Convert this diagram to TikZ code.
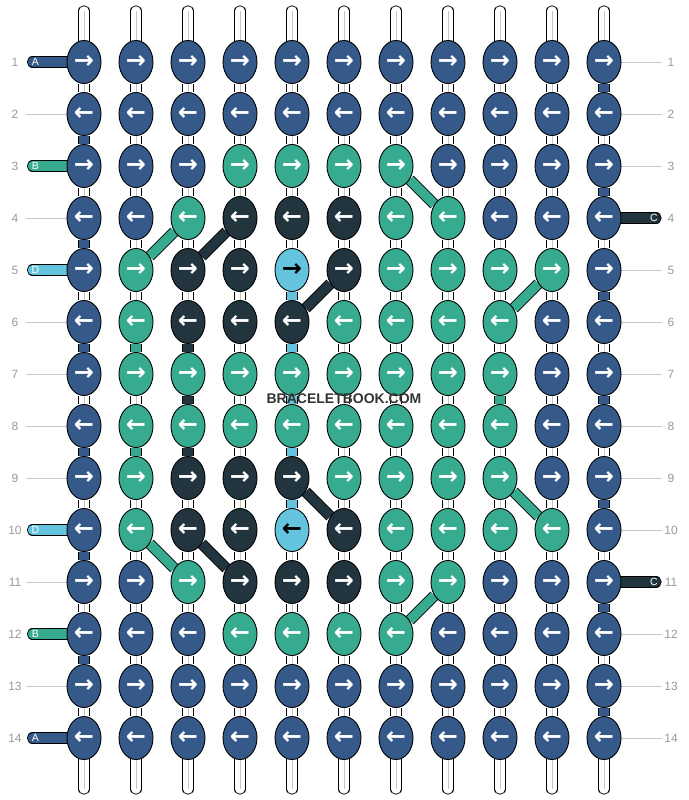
\documentclass[tikz,border=0pt]{standalone}
\usepackage{fontspec}
\setmainfont{Liberation Sans}
\newfontfamily\arrowfont{DejaVu Sans}
\usetikzlibrary{shapes.geometric}
\definecolor{strA}{HTML}{355A8A}
\definecolor{strB}{HTML}{36AB8F}
\definecolor{strC}{HTML}{22353F}
\definecolor{strD}{HTML}{64C4DE}
\pgfdeclarelayer{bg}
\pgfsetlayers{bg,main}
\tikzstyle{knot} = [ellipse, draw=black, line width=0.9pt, minimum width=34pt, minimum height=43pt, inner sep=0pt, text=white, font=\arrowfont\bfseries\fontsize{24}{24}\selectfont]
\tikzstyle{knotA} = [knot, fill=strA]
\tikzstyle{knotB} = [knot, fill=strB]
\tikzstyle{knotC} = [knot, fill=strC]
\tikzstyle{knotD} = [knot, fill=strD, text=black]
\tikzstyle{tube} = [line width=9.4pt, preaction={draw=black, line width=11.2pt}]
\tikzstyle{capped} = [line width=9.4pt, line cap=round, preaction={draw=black, line width=11.2pt, line cap=round}]
\tikzstyle{warp} = [tube, draw=white]
\tikzstyle{core} = [draw=black!22, line width=0.8pt]
\tikzstyle{rowline} = [draw=black!22, line width=0.8pt]
\tikzstyle{rownum} = [text=black!40, font=\fontsize{12}{12}\selectfont, inner sep=0pt]
\tikzstyle{tag} = [text=white, font=\fontsize{10.5}{10.5}\selectfont, inner sep=0pt]

\begin{document}
\begin{tikzpicture}[x=1pt, y=-1pt]
      \useasboundingbox (0,0) rectangle (688,800);
      % place nodes
      \foreach \r/\cols in {1/{A,A,A,A,A,A,A,A,A,A,A}, 2/{A,A,A,A,A,A,A,A,A,A,A},
          3/{A,A,A,B,B,B,B,A,A,A,A}, 4/{A,A,B,C,C,C,B,B,A,A,A},
          5/{A,B,C,C,D,C,B,B,B,B,A}, 6/{A,B,C,C,C,B,B,B,B,A,A},
          7/{A,B,B,B,B,B,B,B,B,A,A}, 8/{A,B,B,B,B,B,B,B,B,A,A},
          9/{A,B,C,C,C,B,B,B,B,A,A}, 10/{A,B,C,C,D,C,B,B,B,B,A},
          11/{A,A,B,C,C,C,B,B,A,A,A}, 12/{A,A,A,B,B,B,B,A,A,A,A},
          13/{A,A,A,A,A,A,A,A,A,A,A}, 14/{A,A,A,A,A,A,A,A,A,A,A}} {
        \foreach \k [count=\c] in \cols {
          \node [knot\k] (k-\r-\c) at ({84+52*(\c-1)}, {62+52*(\r-1)}) {\ifodd\r\relax →\else ←\fi};
        }
        \node [rownum] (num-l-\r) at (15, {62+52*(\r-1)}) {\r};
        \node [rownum] (num-r-\r) at (671, {62+52*(\r-1)}) {\r};
      }
      \foreach \c in {1,...,11} {
        \coordinate (top-\c) at ({84+52*(\c-1)}, 11);
        \coordinate (bot-\c) at ({84+52*(\c-1)}, 789);
      }
      \foreach \r/\t in {1/A, 3/B, 5/D, 10/D, 12/B, 14/A} {
        \coordinate (in-\r) at (32.5, {62+52*(\r-1)});
        \node [tag] (tag-l-\r) at (35.5, {62+52*(\r-1)}) {\t};
      }
      \foreach \r in {4, 11} {
        \coordinate (out-\r) at (656, {62+52*(\r-1)});
        \node [tag] (tag-r-\r) at (654, {62+52*(\r-1)}) {C};
      }
      \node [font=\bfseries\fontsize{14}{14}\selectfont, text=black!80] (brand) at (344, 399) {BRACELETBOOK.COM};

      % draw edges
      \begin{pgfonlayer}{bg}
        \foreach \c in {1,...,11} {
          \draw [capped, draw=white] (top-\c) -- (k-1-\c);
          \draw [capped, draw=white] (k-14-\c) -- (bot-\c);
          \draw [core] (top-\c) -- (k-1-\c);
          \draw [core] (k-14-\c) -- (bot-\c);
          \foreach \r [evaluate=\r as \n using int(\r+1)] in {1,...,13} {
            \draw [warp] (k-\r-\c) -- (k-\n-\c);
            \draw [core] (k-\r-\c) -- (k-\n-\c);
          }
        }
        \foreach \c/\r/\s [evaluate=\r as \n using int(\r+1)] in {1/2/A, 1/4/A, 1/6/A, 1/8/A, 1/10/A, 1/12/A,
            11/1/A, 11/3/A, 11/5/A, 11/7/A, 11/9/A, 11/11/A, 11/13/A,
            2/6/B, 2/8/B, 9/7/B, 3/6/C, 3/7/C, 3/8/C, 5/5/D, 5/6/D, 5/7/D, 5/8/D, 5/9/D}
          \draw [tube, draw=str\s] (k-\r-\c) -- (k-\n-\c);
        \foreach \r in {1,...,14}
          \foreach \c [evaluate=\c as \n using int(\c+1)] in {1,...,10}
            \draw [tube, draw=strA] (k-\r-\c) -- (k-\r-\n);
        \foreach \a/\b/\s in {5-2/4-3/B, 5-3/4-4/C, 3-7/4-8/B, 6-5/5-6/C, 6-9/5-10/B,
            9-5/10-6/C, 9-9/10-10/B, 10-2/11-3/B, 10-3/11-4/C, 12-7/11-8/B}
          \draw [tube, draw=str\s] (k-\a) -- (k-\b);
        \foreach \r/\s in {1/A, 3/B, 5/D, 10/D, 12/B, 14/A}
          \draw [capped, draw=str\s] (in-\r) -- (k-\r-1);
        \foreach \r in {4, 11}
          \draw [capped, draw=strC] (k-\r-11) -- (out-\r);
        \foreach \r in {2, 4, 6, 7, 8, 9, 11, 13}
          \draw [rowline] (26, {62+52*(\r-1)}) -- (k-\r-1.west);
        \foreach \r in {1, 2, 3, 5, 6, 7, 8, 9, 10, 12, 13, 14}
          \draw [rowline] (k-\r-11.east) -- (662, {62+52*(\r-1)});
      \end{pgfonlayer}
    \end{tikzpicture}
\end{document}
